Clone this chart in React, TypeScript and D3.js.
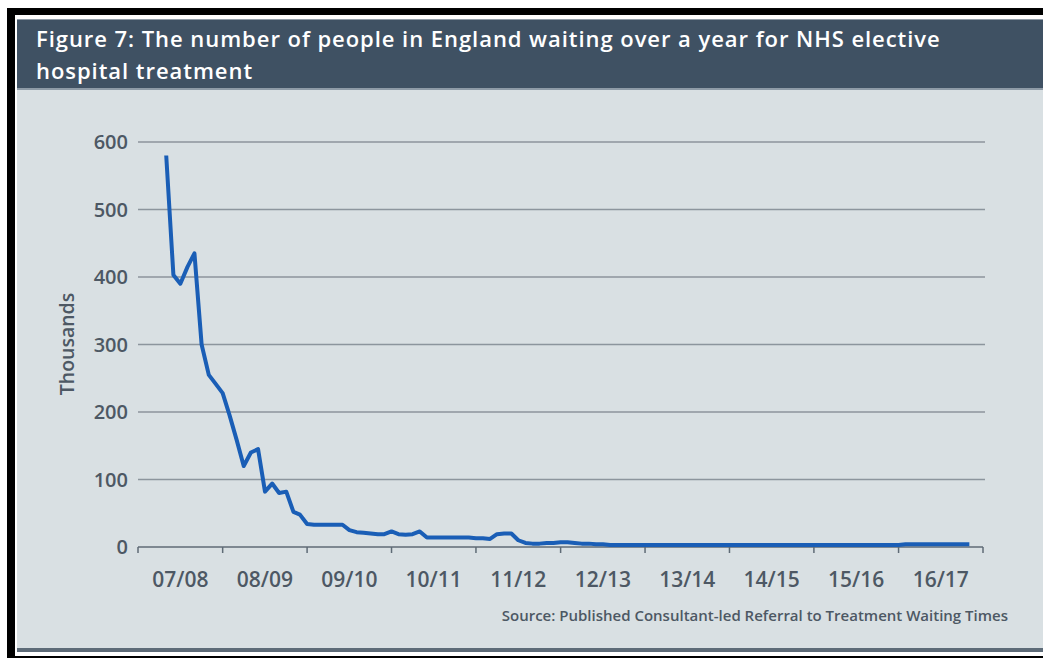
import React, { useRef, useEffect } from "react";
import * as d3 from "d3";

// Financial years shown on the x axis (April to March)
const yearLabels = ["07/08", "08/09", "09/10", "10/11", "11/12", "12/13", "13/14", "14/15", "15/16", "16/17"];
const yTicks = [0, 100, 200, 300, 400, 500, 600];

// Monthly count (thousands) waiting over 52 weeks, Aug 2007 .. Feb 2017
const firstMonth = new Date(2007, 7, 1);
const waitingThousands = [
  580, 403, 390, 415, 435, 300, 255, 242, 228, 195, 158, 120,
  140, 145, 82, 94, 80, 82, 52, 48, 34, 33, 33, 33,
  33, 33, 25, 22, 21, 20, 19, 19, 23, 19, 18, 19,
  23, 14, 14, 14, 14, 14, 14, 14, 13, 13, 12, 19,
  20, 20, 10, 6, 5, 5, 6, 6, 7, 7, 6, 5,
  5, 4, 4, 3, 3, 3, 3, 3, 3, 3, 3, 3,
  3, 3, 3, 3, 3, 3, 3, 3, 3, 3, 3, 3,
  3, 3, 3, 3, 3, 3, 3, 3, 3, 3, 3, 3,
  3, 3, 3, 3, 3, 3, 3, 3, 3, 4, 4, 4,
  4, 4, 4, 4, 4, 4, 4,
];

const titleLines = [
  "Figure 7: The number of people in England waiting over a year for NHS elective",
  "hospital treatment",
];
const sourceText = "Source: Published Consultant-led Referral to Treatment Waiting Times";

export default function App() {
  const ref = useRef<SVGSVGElement | null>(null);
  const width = 1043, height = 658;
  const plot = { left: 138, right: 983, top: 142, bottom: 547 };

  useEffect(() => {
    const svg = d3.select(ref.current);
    svg.selectAll("*").remove();

    // frame
    svg.append("rect").attr("width", width).attr("height", height).attr("fill", "#fff");
    svg.append("rect").attr("x", 7).attr("y", 8).attr("width", width - 7).attr("height", height - 8).attr("fill", "#000");
    svg.append("rect").attr("x", 15).attr("y", 15).attr("width", width - 15).attr("height", 641).attr("fill", "#fff");
    svg.append("rect").attr("x", 17).attr("y", 19).attr("width", width - 17).attr("height", 633).attr("fill", "#d9e0e3");
    svg.append("rect").attr("x", 17).attr("y", 648).attr("width", width - 17).attr("height", 4).attr("fill", "#5d6b78");

    // header
    svg.append("rect").attr("x", 17).attr("y", 19).attr("width", width - 17).attr("height", 71).attr("fill", "#8e9ba7");
    svg.append("rect").attr("x", 17).attr("y", 20).attr("width", width - 17).attr("height", 68).attr("fill", "#3f5163");
    svg.append("g")
      .selectAll("text")
      .data(titleLines)
      .join("text")
      .attr("x", 36)
      .attr("y", (d, i) => 47 + i * 32)
      .attr("fill", "#ffffff")
      .attr("font-family", "'Open Sans', sans-serif")
      .attr("font-weight", 600)
      .attr("font-size", 22)
      .attr("letter-spacing", 0.95)
      .text(d => d);

    const x = d3.scaleTime()
      .domain([new Date(2007, 3, 1), new Date(2017, 3, 1)])
      .range([plot.left, plot.right]);
    const y = d3.scaleLinear().domain([0, 600]).range([plot.bottom, plot.top]);

    const yearStarts = d3.range(yearLabels.length + 1).map(i => new Date(2007 + i, 3, 1));

    // gridlines
    svg.append("g")
      .selectAll("line")
      .data(yTicks.filter(t => t > 0))
      .join("line")
      .attr("x1", plot.left)
      .attr("x2", plot.right + 2)
      .attr("y1", d => y(d))
      .attr("y2", d => y(d))
      .attr("stroke", "#8c959d")
      .attr("stroke-width", 1.5);

    const font = "'Open Sans', 'DejaVu Sans', sans-serif";

    // y labels
    svg.append("g")
      .selectAll("text")
      .data(yTicks)
      .join("text")
      .attr("x", 128)
      .attr("y", d => y(d))
      .attr("dy", "0.36em")
      .attr("text-anchor", "end")
      .attr("fill", "#4d5864")
      .attr("font-family", font)
      .attr("font-weight", 600)
      .attr("font-size", 20)
      .text(d => d);

    svg.append("text")
      .attr("transform", `translate(74,344) rotate(-90)`)
      .attr("text-anchor", "middle")
      .attr("fill", "#4d5864")
      .attr("font-family", font)
      .attr("font-weight", 600)
      .attr("font-size", 19.5)
      .text("Thousands");

    // x axis
    const axis = svg.append("g");
    axis.append("line")
      .attr("x1", plot.left).attr("x2", plot.right)
      .attr("y1", plot.bottom).attr("y2", plot.bottom)
      .attr("stroke", "#5f6b76").attr("stroke-width", 1.5);
    axis.selectAll("line.tick")
      .data(yearStarts)
      .join("line")
      .attr("class", "tick")
      .attr("x1", d => x(d)).attr("x2", d => x(d))
      .attr("y1", plot.bottom).attr("y2", plot.bottom + 6)
      .attr("stroke", "#5f6b76").attr("stroke-width", 1.5);
    axis.selectAll("text")
      .data(yearLabels)
      .join("text")
      .attr("x", (d, i) => (x(yearStarts[i]) + x(yearStarts[i + 1])) / 2)
      .attr("y", 587)
      .attr("text-anchor", "middle")
      .attr("fill", "#4d5864")
      .attr("font-family", font)
      .attr("font-weight", 600)
      .attr("font-size", 21)
      .text(d => d);

    // series
    const line = d3.line<number>()
      .x((d, i) => x(d3.timeMonth.offset(firstMonth, i)))
      .y(d => y(d));
    svg.append("path")
      .datum(waitingThousands)
      .attr("fill", "none")
      .attr("stroke", "#1a5eb6")
      .attr("stroke-width", 4)
      .attr("stroke-linejoin", "round")
      .attr("d", line);

    svg.append("text")
      .attr("x", 1008)
      .attr("y", 621)
      .attr("text-anchor", "end")
      .attr("fill", "#4d5864")
      .attr("font-family", font)
      .attr("font-weight", 600)
      .attr("font-size", 15)
      .text(sourceText);
  }, []);

  return (
    <svg ref={ref} width={width} height={height} style={{ position: "absolute", left: 0, top: 0 }} />
  );
}
